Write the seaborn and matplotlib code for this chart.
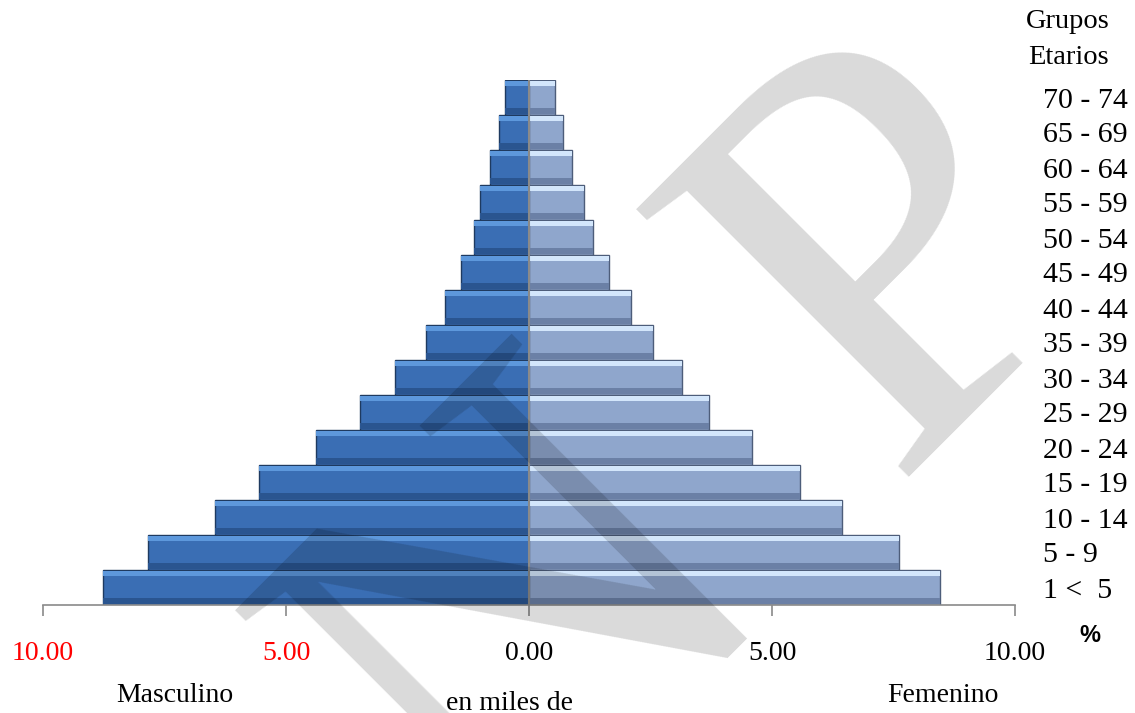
import matplotlib
matplotlib.use("Agg")
import matplotlib.pyplot as plt
import seaborn as sns
import pandas as pd
import numpy as np

# ---- data (percent) ----
grupos = ["70 - 74", "65 - 69", "60 - 64", "55 - 59", "50 - 54", "45 - 49",
          "40 - 44", "35 - 39", "30 - 34", "25 - 29", "20 - 24", "15 - 19",
          "10 - 14", "5 - 9", "1 <  5"]
masculino = [0.49, 0.62, 0.80, 1.01, 1.13, 1.40, 1.73, 2.12, 2.76, 3.48,
             4.38, 5.56, 6.46, 7.84, 8.77]
femenino = [0.53, 0.70, 0.88, 1.13, 1.32, 1.65, 2.10, 2.55, 3.15, 3.70,
            4.59, 5.58, 6.44, 7.61, 8.46]
xticks = [-10, -5, 0, 5, 10]
xticklabels = ["10.00", "5.00", "0.00", "5.00", "10.00"]

sns.set_theme(style="white")
plt.rcParams["font.family"] = ["Liberation Serif", "DejaVu Serif"]
plt.rcParams["text.color"] = "black"
plt.rcParams["xtick.color"] = "black"
plt.rcParams["ytick.color"] = "black"

df = pd.DataFrame({
    "grupo": grupos * 2,
    "valor": [-v for v in masculino] + femenino,
    "sexo": ["Masculino"] * len(grupos) + ["Femenino"] * len(grupos),
})

W, H = 1135, 713
fig = plt.figure(figsize=(W / 100, H / 100), dpi=100)
ax = fig.add_axes([43 / W, 1 - 605 / H, (1015 - 43) / W, (605 - 80) / H])

pal = {"Masculino": "#3a6eb4", "Femenino": "#8fa6cc"}
sns.barplot(data=df, x="valor", y="grupo", hue="sexo", order=grupos,
            orient="h", dodge=False, width=1.0, palette=pal, saturation=1,
            legend=False, ax=ax, zorder=2)

for p in ax.patches:
    p.set_edgecolor("#1e3a60" if p.get_width() < 0 else "#4d5d7a")
    p.set_linewidth(1.0)

# bevel-like shading (top highlight, bottom shadow)
pos = np.arange(len(grupos))
m = -np.array(masculino)
f = np.array(femenino)
ax.barh(pos - 0.40, m, height=0.14, color="#5d98dc", lw=0, zorder=2.5)
ax.barh(pos + 0.38, m, height=0.18, color="#2a5590", lw=0, zorder=2.5)
ax.barh(pos - 0.40, f, height=0.14, color="#d3e6fb", lw=0, zorder=2.5)
ax.barh(pos + 0.38, f, height=0.18, color="#6b80a6", lw=0, zorder=2.5)

ax.set_xlim(-10, 10)
ax.set_ylim(len(grupos) - 0.5, -0.5)
ax.axvline(0, color="#8a8a8a", lw=1.5, zorder=3)

for s in ["top", "left", "right"]:
    ax.spines[s].set_visible(False)
ax.spines["bottom"].set_color("#8a8a8a")
ax.spines["bottom"].set_linewidth(1.2)
ax.spines["bottom"].set_zorder(4)

ax.set_xticks(xticks)
ax.set_xticklabels(xticklabels, fontsize=20)
for lab, col in zip(ax.get_xticklabels(), ["red", "red", "black", "black", "black"]):
    lab.set_color(col)
ax.tick_params(axis="x", which="both", bottom=True, length=8, width=1.2,
               color="#8a8a8a", pad=18)

ax.yaxis.tick_right()
ax.tick_params(axis="y", length=0, pad=20, labelsize=21.5)
for lab in ax.get_yticklabels():
    lab.set_horizontalalignment("left")
ax.set_xlabel("")
ax.set_ylabel("")

# labels
fig.text(1068 / W, 1 - 22 / H, "Grupos", ha="center", va="center", fontsize=20.5)
fig.text(1068 / W, 1 - 57 / H, "Etarios", ha="center", va="center", fontsize=20.5)
fig.text(1090 / W, 1 - 635 / H, "%", ha="center", va="center", fontsize=17,
         family="Liberation Sans", weight="bold")
fig.text(175 / W, 1 - 695 / H, "Masculino", ha="center", va="center", fontsize=20)
fig.text(943 / W, 1 - 695 / H, "Femenino", ha="center", va="center", fontsize=20)
fig.text(510 / W, 1 - 703 / H, "en miles de", ha="center", va="center", fontsize=20)

# watermark
fig.text(710 / W, 1 - 478 / H, "N P", ha="center", va="center", rotation=45,
         rotation_mode="anchor", fontsize=420, color="black", alpha=0.15,
         zorder=10)

fig.savefig("out.png", dpi=100)
